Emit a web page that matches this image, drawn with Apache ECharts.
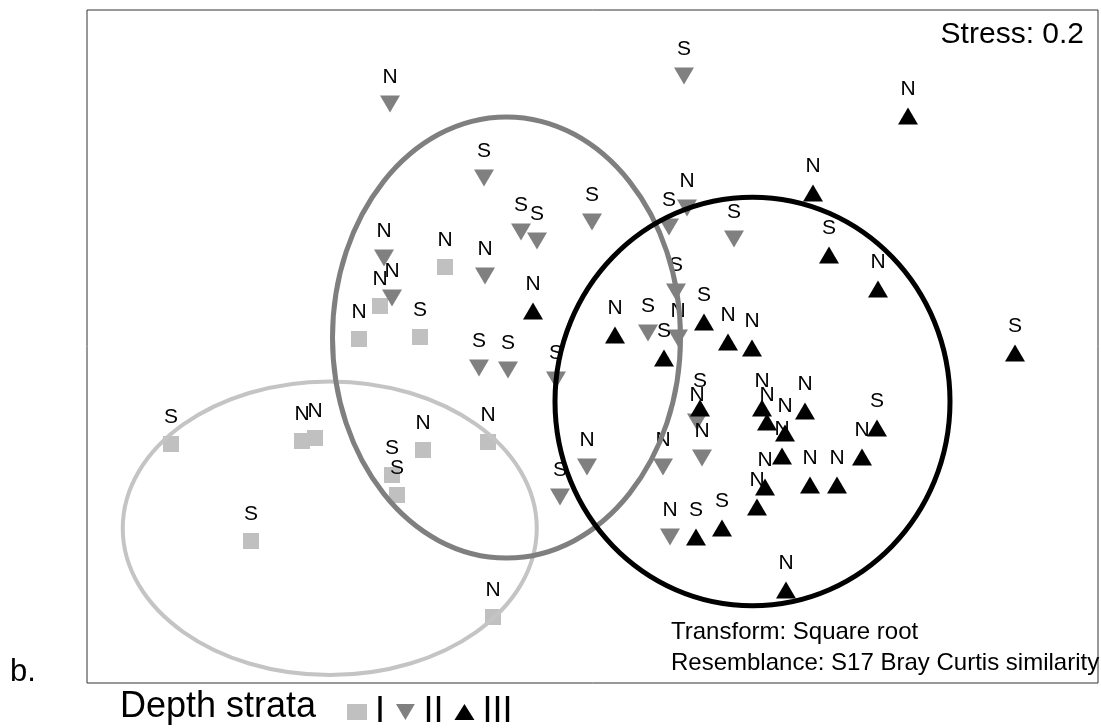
<!DOCTYPE html>
<html>
<head>
<meta charset="utf-8">
<title>NMDS – depth strata</title>
<script src="https://cdn.jsdelivr.net/npm/echarts@6/dist/echarts.min.js"></script>
<style>
  html, body { margin: 0; padding: 0; background: #fff; }
  #chart { width: 1101px; height: 728px; }
</style>
</head>
<body>
<div id="chart"></div>
<script>
// NMDS ordination scores per sample: [axis 1, axis 2, site label]
const stratumI = [
  [-1.686, -0.390, 'S'], [-1.162, -0.378, 'N'], [-1.110, -0.366, 'N'],
  [-1.366, -0.778, 'S'], [-0.802, -0.514, 'S'], [-0.782, -0.594, 'S'],
  [-0.678, -0.414, 'N'], [-0.418, -0.382, 'N'], [-0.398, -1.082, 'N'],
  [-0.590, 0.318, 'N'], [-0.850, 0.162, 'N'], [-0.934, 0.030, 'N'],
  [-0.690, 0.038, 'S']
];
const stratumII = [
  [-0.810, 0.970, 'N'], [0.366, 1.082, 'S'], [-0.434, 0.674, 'S'],
  [-0.286, 0.458, 'S'], [-0.222, 0.422, 'S'], [-0.002, 0.498, 'S'],
  [-0.834, 0.354, 'N'], [-0.802, 0.194, 'N'], [-0.430, 0.282, 'N'],
  [-0.454, -0.086, 'S'], [-0.338, -0.094, 'S'], [-0.146, -0.134, 'S'],
  [0.306, 0.478, 'S'], [0.378, 0.554, 'N'], [0.566, 0.430, 'S'],
  [0.334, 0.218, 'S'], [0.222, 0.054, 'S'], [0.342, 0.034, 'N'],
  [0.418, -0.302, 'N'], [0.438, -0.446, 'N'], [-0.022, -0.482, 'N'],
  [-0.130, -0.602, 'S'], [0.282, -0.482, 'N'], [0.310, -0.762, 'N']
];
const stratumIII = [
  [1.262, 0.922, 'N'], [0.882, 0.614, 'N'], [0.946, 0.366, 'S'],
  [1.142, 0.230, 'N'], [1.690, -0.026, 'S'], [-0.238, 0.142, 'N'],
  [0.090, 0.046, 'N'], [0.286, -0.046, 'S'], [0.446, 0.098, 'S'],
  [0.542, 0.018, 'N'], [0.638, -0.006, 'N'], [0.430, -0.246, 'S'],
  [0.678, -0.246, 'N'], [0.698, -0.302, 'N'], [0.850, -0.258, 'N'],
  [0.770, -0.346, 'N'], [1.138, -0.326, 'S'], [1.078, -0.442, 'N'],
  [0.758, -0.438, 'N'], [0.690, -0.562, 'N'], [0.870, -0.554, 'N'],
  [0.978, -0.554, 'N'], [0.658, -0.642, 'N'], [0.518, -0.726, 'S'],
  [0.414, -0.762, 'S'], [0.774, -0.974, 'N']
];

// Group ellipses: [centre x, centre y, radius x, radius y] in ordination units
const ellipseI = [-1.051, -0.727, 0.828, 0.587];
const ellipseII = [-0.344, 0.036, 0.696, 0.882];
const ellipseIII = [0.640, -0.220, 0.790, 0.817];

const strataNames = ['I', 'II', 'III'];
const stressText = 'Stress: 0.2';
const noteLines = ['Transform: Square root', 'Resemblance: S17 Bray Curtis similarity'];

const FONT = 'Arial, "Liberation Sans", Helvetica, sans-serif';
const COLORS = { I: '#c0c0c0', II: '#808080', III: '#000000' };

function pointSeries(name, data, symbol, size, color) {
  return {
    name: name,
    type: 'scatter',
    data: data,
    symbol: symbol,
    symbolSize: size,
    itemStyle: { color: color, opacity: 1 },
    label: {
      show: true,
      position: 'top',
      distance: 8,
      formatter: p => p.value[2],
      color: '#000',
      fontSize: 21,
      fontFamily: FONT
    },
    emphasis: { disabled: true },
    z: 2
  };
}

function ellipseSeries(name, params, color, width) {
  return {
    name: name,
    type: 'custom',
    coordinateSystem: 'cartesian2d',
    data: [params],
    encode: { x: 0, y: 1 },
    silent: true,
    z: 3,
    renderItem: (p, api) => {
      const cx = api.value(0), cy = api.value(1);
      const c = api.coord([cx, cy]);
      const e = api.coord([cx + api.value(2), cy + api.value(3)]);
      return {
        type: 'ellipse',
        shape: { cx: c[0], cy: c[1], rx: e[0] - c[0], ry: c[1] - e[1] },
        style: { fill: 'none', stroke: color, lineWidth: width }
      };
    }
  };
}

const chart = echarts.init(document.getElementById('chart'), null, { renderer: 'canvas' });

chart.setOption({
  backgroundColor: '#ffffff',
  animation: false,
  textStyle: { fontFamily: FONT },
  grid: {
    left: 87, right: 3, top: 10, bottom: 45,
    show: true, borderColor: '#333333', borderWidth: 1, backgroundColor: 'transparent'
  },
  xAxis: {
    type: 'value', min: -2.022, max: 2.022,
    show: false, splitLine: { show: false }
  },
  yAxis: {
    type: 'value', min: -1.346, max: 1.346,
    show: false, splitLine: { show: false }
  },
  legend: {
    data: strataNames,
    orient: 'horizontal',
    left: 342,
    top: 689,
    itemWidth: 20,
    itemHeight: 16,
    itemGap: 11,
    selectedMode: false,
    textStyle: {
      fontSize: 36, color: '#000', fontFamily: FONT,
      padding: [0, 0, 10, 3]
    }
  },
  graphic: [
    {
      type: 'text', x: 120, y: 707, silent: true,
      style: { text: 'Depth strata', font: '36px ' + FONT, fill: '#000', verticalAlign: 'middle' }
    },
    {
      type: 'text', x: 10, y: 672, silent: true,
      style: { text: 'b.', font: '31px ' + FONT, fill: '#000', verticalAlign: 'middle' }
    },
    {
      type: 'text', x: 1084, y: 35, silent: true,
      style: { text: stressText, font: '30px ' + FONT, fill: '#000', align: 'right', verticalAlign: 'middle' }
    },
    {
      type: 'text', x: 671, y: 632, silent: true,
      style: { text: noteLines[0], font: '24px ' + FONT, fill: '#000', verticalAlign: 'middle' }
    },
    {
      type: 'text', x: 671, y: 663, silent: true,
      style: { text: noteLines[1], font: '24px ' + FONT, fill: '#000', verticalAlign: 'middle' }
    }
  ],
  series: [
    pointSeries('I', stratumI, 'rect', 16, COLORS.I),
    pointSeries('II', stratumII, 'path://M0,0L20,0L10,17Z', [20, 17], COLORS.II),
    pointSeries('III', stratumIII, 'triangle', [20, 17], COLORS.III),
    ellipseSeries('I ellipse', ellipseI, '#c4c4c4', 4),
    ellipseSeries('II ellipse', ellipseII, '#7f7f7f', 5),
    ellipseSeries('III ellipse', ellipseIII, '#000000', 5)
  ]
});
</script>
</body>
</html>
